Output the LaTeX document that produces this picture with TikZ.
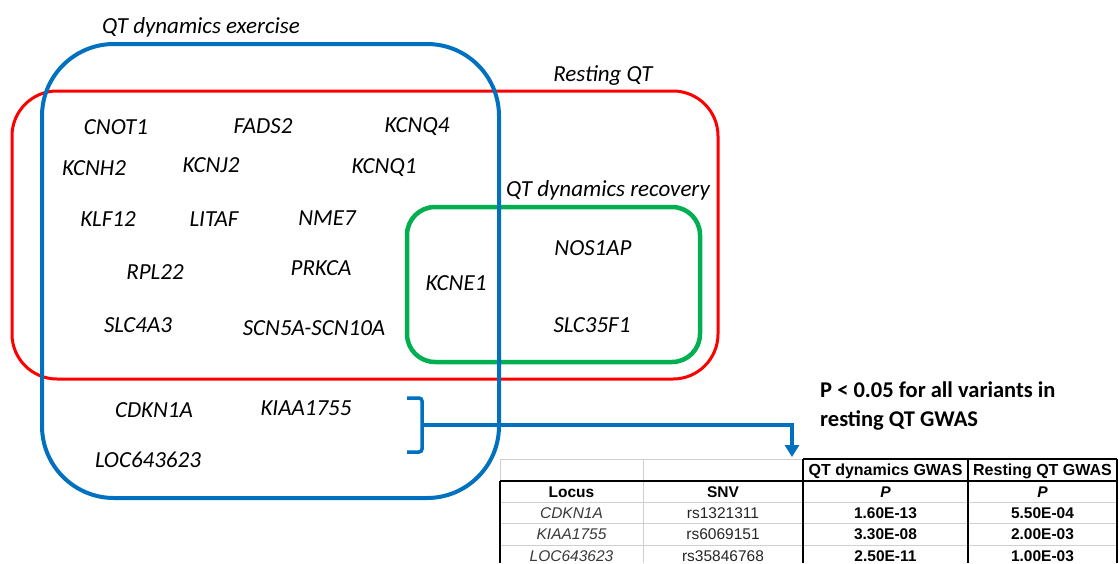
\documentclass[tikz,border=0pt]{standalone}
\usepackage{fontspec}
\setmainfont{Carlito}
\newfontfamily\tabfont{Liberation Sans}
\usetikzlibrary{arrows.meta}

\definecolor{setblue}{HTML}{0070C0}
\definecolor{setred}{HTML}{FF0000}
\definecolor{setgreen}{HTML}{00B050}
\definecolor{gridgray}{HTML}{CFCFCF}
\definecolor{locusgray}{HTML}{3A3A3A}

\tikzset{
  gene/.style={font=\fontsize{23}{27}\selectfont\itshape, anchor=base, inner sep=0pt},
  settitle/.style={font=\fontsize{23}{27}\selectfont\itshape, anchor=base, inner sep=0pt},
  note/.style={font=\fontsize{22.5}{28}\selectfont\bfseries, anchor=base west, inner sep=0pt},
  cell/.style={font=\tabfont\fontsize{15.5}{18}\selectfont, anchor=base, inner sep=0pt},
  headcell/.style={cell, font=\tabfont\fontsize{16}{18}\selectfont\bfseries},
  boldcell/.style={cell, font=\tabfont\fontsize{15.5}{18}\selectfont\bfseries},
  locuscell/.style={cell, font=\tabfont\fontsize{15.5}{18}\selectfont\itshape, text=locusgray},
  snvcell/.style={cell, text=black!85},
  exercisebox/.style={draw=setblue, line width=4pt, rounded corners=72pt},
  restingbox/.style={draw=setred, line width=3pt, rounded corners=45pt},
  recoverybox/.style={draw=setgreen, line width=4.5pt, rounded corners=28pt},
  bracketline/.style={draw=setblue, line width=3.5pt, rounded corners=3pt},
  conn/.style={draw=setblue, line width=3.5pt, -{Triangle[width=14pt,length=12pt]}},
  thinrule/.style={draw=gridgray, line width=1pt},
  darkrule/.style={draw=black, line width=1.3pt},
}

\begin{document}
\begin{tikzpicture}[x=1pt,y=-1pt]
\useasboundingbox (0,0) rectangle (1119,563);
\fill[white] (0,0) rectangle (1119,563);

% the three gene sets
\draw[restingbox]  (12,91) rectangle (718,379);
\draw[recoverybox] (407,207) rectangle (700,362);
\draw[exercisebox] (42,44) rectangle (499,498);

% set titles
\node[settitle] (tEx)  at (201,33)  {QT dynamics exercise};
\node[settitle] (tRest) at (603,81) {Resting QT};
\node[settitle] (tRec) at (608,196) {QT dynamics recovery};

% loci shared by exercise and resting QT
\node[gene] (cnot1) at (116,134.5) {CNOT1};
\node[gene] (fads2) at (263,133.5) {FADS2};
\node[gene] (kcnq4) at (417,132.5) {KCNQ4};
\node[gene] (kcnh2) at (94,175.5)  {KCNH2};
\node[gene] (kcnj2) at (211,172.5) {KCNJ2};
\node[gene] (kcnq1) at (384,173.5) {KCNQ1};
\node[gene] (klf12) at (108,226.5) {KLF12};
\node[gene] (litaf) at (214,226.5) {LITAF};
\node[gene] (nme7)  at (327,225.5) {NME7};
\node[gene] (rpl22) at (155,279.5) {RPL22};
\node[gene] (prkca) at (321,275.5) {PRKCA};
\node[gene] (slc4a3) at (138,332.5) {SLC4A3};
\node[gene] (scn5a) at (314,335.5) {SCN5A-SCN10A};

% loci in all three sets
\node[gene] (kcne1) at (456,290.5) {KCNE1};

% loci shared by recovery and resting QT
\node[gene] (nos1ap) at (593,255.5) {NOS1AP};
\node[gene] (slc35f1) at (592,332.5) {SLC35F1};

% loci found only for exercise
\node[gene] (cdkn1a) at (154,417) {CDKN1A};
\node[gene] (kiaa)   at (306,415) {KIAA1755};
\node[gene] (loc)    at (148,467) {LOC643623};

% bracket and connector to the table
\path[bracketline] (407,398) -- (422,398) -- (422,452) -- (407,452);
\coordinate (brk) at (422,425);
\coordinate (tbl) at (792,457);
\draw[conn] (brk) -| (tbl);

\node[note] (note1) at (820,397) {P < 0.05 for all variants in};
\node[note] (note2) at (820,426) {resting QT GWAS};

% table grid
\draw[thinrule] (500,459) -- (803,459);
\draw[thinrule] (500,459) -- (500,481);
\draw[thinrule] (643,459) -- (643,563);
\draw[thinrule] (500,502) -- (1117,502);
\draw[thinrule] (500,523) -- (1117,523);
\draw[thinrule] (500,545) -- (1117,545);
\draw[darkrule] (803,459) -- (1117,459);
\draw[darkrule] (500,481) -- (1117,481);
\draw[darkrule] (500,481) -- (500,563);
\draw[darkrule] (803,459) -- (803,563);
\draw[darkrule] (968,459) -- (968,563);
\draw[darkrule] (1117,459) -- (1117,563);

% table header
\node[headcell] (hDyn)  at (885.5,475.5) {QT dynamics GWAS};
\node[headcell] (hRest) at (1042.5,475.5) {Resting QT GWAS};
\node[boldcell] (hLocus) at (571.5,497) {Locus};
\node[boldcell] (hSnv)   at (723,497) {SNV};
\node[boldcell, font=\tabfont\fontsize{15.5}{18}\selectfont\bfseries\itshape] (hP1) at (885.5,497) {P};
\node[boldcell, font=\tabfont\fontsize{15.5}{18}\selectfont\bfseries\itshape] (hP2) at (1042.5,497) {P};

% table body
\node[locuscell] (r1a) at (571.5,518) {CDKN1A};
\node[snvcell]   (r1b) at (723,518)   {rs1321311};
\node[boldcell]  (r1c) at (885.5,518) {1.60E-13};
\node[boldcell]  (r1d) at (1042.5,518) {5.50E-04};

\node[locuscell] (r2a) at (571.5,539.5) {KIAA1755};
\node[snvcell]   (r2b) at (723,539.5)   {rs6069151};
\node[boldcell]  (r2c) at (885.5,539.5) {3.30E-08};
\node[boldcell]  (r2d) at (1042.5,539.5) {2.00E-03};

\node[locuscell] (r3a) at (571.5,561) {LOC643623};
\node[snvcell]   (r3b) at (723,561)   {rs35846768};
\node[boldcell]  (r3c) at (885.5,561) {2.50E-11};
\node[boldcell]  (r3d) at (1042.5,561) {1.00E-03};
\end{tikzpicture}
\end{document}
